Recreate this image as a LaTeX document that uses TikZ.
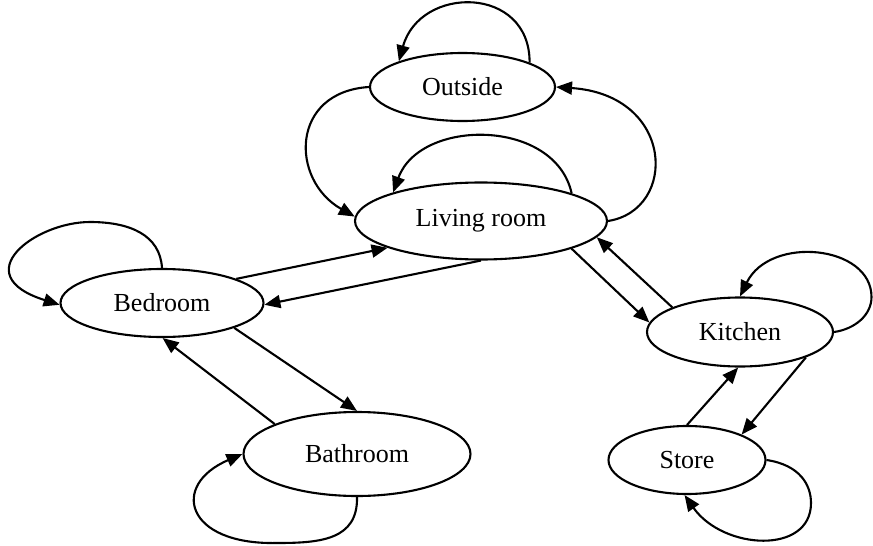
\documentclass[tikz,border=0pt]{standalone}
\usepackage{fontspec}
\setmainfont{Liberation Serif}
\usetikzlibrary{shapes.geometric,arrows.meta}
\begin{document}
\begin{tikzpicture}[x=1pt,y=-1pt,
  state/.style={ellipse,draw,line width=2.1pt,inner sep=0pt,
    font=\fontsize{26}{30}\selectfont},
  edge/.style={line width=2.1pt,-{Triangle[length=16pt,width=13pt]}}]
\useasboundingbox (0,0) rectangle (873,546);

% rooms
\node[state,minimum width=185pt,minimum height=68pt] (outside)  at (462.5,87) {Outside};
\node[state,minimum width=252pt,minimum height=77pt] (living)   at (481,221)  {Living room};
\node[state,minimum width=203pt,minimum height=68pt] (bedroom)  at (162,303)  {Bedroom};
\node[state,minimum width=227pt,minimum height=84pt] (bathroom) at (357,454)  {Bathroom};
\node[state,minimum width=186pt,minimum height=69pt] (kitchen)  at (740,332)  {Kitchen};
\node[state,minimum width=157pt,minimum height=68pt] (store)    at (687,460)  {Store};

% self loops
\draw[edge] (outside.20) .. controls (530,-15) and (420,-15) .. (outside.158);
\draw[edge] (living.17) .. controls (555,118) and (420,118) .. (living.162);
\draw[edge] (bedroom.90) .. controls (160,235) and (130,222) .. (90,222)
               .. controls (35,222) and (-35,275) .. (bedroom.181);
\draw[edge] (bathroom.270) .. controls (358,540) and (320,543) .. (277,543)
               .. controls (185,545) and (170,485) .. (bathroom.180);
\draw[edge] (kitchen.east) .. controls (855,329) and (871.5,315) .. (871.5,297)
               .. controls (871.5,245) and (770,235) .. (kitchen.90);
\draw[edge] (store.east) .. controls (800,465) and (811,485) .. (811,503)
               .. controls (811,555) and (723,550) .. (store.266);

% outside <-> living room
\draw[edge] (outside.west) .. controls (290,92) and (290,180) .. (living.178);
\draw[edge] (living.east) .. controls (678,210) and (675,95) .. (outside.east);

% bedroom <-> living room
\draw[edge] (bedroom.18) -- (living.196);
\draw[edge] (living.270) -- (bedroom.359);

% bedroom <-> bathroom
\draw[edge] (bedroom.341) -- (bathroom.90);
\draw[edge] (bathroom.160) -- (bedroom.271);

% living room <-> kitchen
\draw[edge] (living.343) -- (kitchen.174);
\draw[edge] (kitchen.160) -- (living.352);

% kitchen <-> store
\draw[edge] (kitchen.339) -- (store.25);
\draw[edge] (store.90) -- (kitchen.267);
\end{tikzpicture}
\end{document}
